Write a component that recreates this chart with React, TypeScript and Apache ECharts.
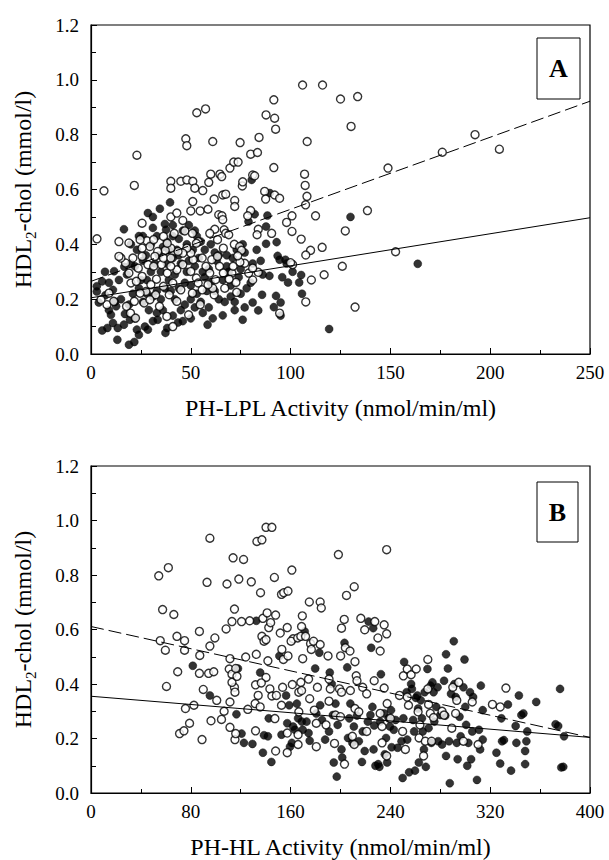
import React, { useEffect, useRef } from "react";
import * as echarts from "echarts";

// ---------- Panel A: PH-LPL activity vs HDL2-chol ----------
const xTicksA = [0, 50, 100, 150, 200, 250];
const yTicks = [0, 0.2, 0.4, 0.6, 0.8, 1.0, 1.2];

const openA: number[][] = [
  [3, 0.42], [6.5, 0.595], [23, 0.725], [21.7, 0.615], [25.6, 0.477], [14, 0.41], [19, 0.405], [28, 0.413],
  [47.5, 0.785], [48, 0.76], [53, 0.88], [57.4, 0.894], [61, 0.775], [40, 0.63], [40, 0.605], [45, 0.63],
  [48, 0.635], [51, 0.63], [52, 0.605], [51, 0.556], [50, 0.522], [56, 0.596], [59, 0.626], [60, 0.656],
  [61.7, 0.565], [54.7, 0.522], [58.6, 0.528], [64.6, 0.656], [65.5, 0.647], [66, 0.58], [67.5, 0.583],
  [64, 0.508], [65.6, 0.504], [66, 0.49], [69.6, 0.678], [71.5, 0.7], [73.7, 0.7], [72, 0.56], [72, 0.538],
  [75.8, 0.613], [76, 0.628], [74.7, 0.771], [80, 0.729], [83.4, 0.735], [84.2, 0.79], [81, 0.653], [82, 0.65],
  [80, 0.523], [78.5, 0.504], [87.7, 0.872], [91.6, 0.927], [92, 0.86], [92.5, 0.82], [91.6, 0.68], [87, 0.593],
  [87.5, 0.565], [92, 0.58], [94.5, 0.568], [83.8, 0.455], [90.5, 0.44], [98, 0.48], [100.7, 0.504],
  [100.7, 0.447], [106, 0.981], [116, 0.981], [125, 0.93], [133.6, 0.939], [130.3, 0.83], [108.3, 0.775],
  [107, 0.656], [107.3, 0.615], [108.2, 0.575], [107.5, 0.544], [112.5, 0.504], [105.3, 0.419], [110, 0.378],
  [107.6, 0.361], [115.8, 0.389], [127.4, 0.449], [125.9, 0.32], [116.8, 0.289], [110.4, 0.27], [107.6, 0.19],
  [132.3, 0.171], [138.5, 0.523], [148.8, 0.678], [152.6, 0.373], [176, 0.736], [192.4, 0.8], [204.6, 0.747],
  [94.5, 0.149], [101, 0.326], [100, 0.333], [83.8, 0.298], [81, 0.27],
  [40, 0.5], [43, 0.514], [46, 0.487], [47, 0.449], [53.7, 0.41], [62, 0.455], [66.7, 0.453], [67.5, 0.44],
  [69, 0.435], [71.8, 0.4], [74.5, 0.392], [75.4, 0.378], [77, 0.331], [74.6, 0.335], [70.6, 0.295],
  [72.6, 0.261], [69.2, 0.273], [67, 0.24], [73, 0.225], [61.7, 0.216], [61, 0.24], [59.5, 0.295], [57.6, 0.32],
  [55.7, 0.35], [51.2, 0.344], [50, 0.368], [48, 0.386], [46, 0.368], [43.6, 0.374], [40, 0.386], [37.2, 0.378],
  [33.4, 0.374], [32, 0.356], [35.3, 0.326], [32.8, 0.273], [30, 0.253], [32.4, 0.216], [27.5, 0.228],
  [26.6, 0.186], [20, 0.259], [19, 0.295], [17.3, 0.332], [15, 0.35], [14, 0.356], [21, 0.35], [23.7, 0.313],
  [21.7, 0.192], [17.8, 0.174], [19.8, 0.149], [22.3, 0.131], [9, 0.222], [8, 0.18], [11.4, 0.192], [5, 0.198],
  [34.3, 0.174], [38, 0.137], [41, 0.1], [48.9, 0.143], [43, 0.192], [45, 0.234], [41, 0.259], [38.2, 0.295],
  [43, 0.307], [46, 0.326], [50, 0.301], [52.8, 0.277], [53.7, 0.259], [55.7, 0.234], [50.8, 0.222],
  [54.7, 0.18], [60.5, 0.344], [63.4, 0.356], [64.4, 0.32], [66.3, 0.295], [62.4, 0.271], [58.6, 0.253],
  [79, 0.295], [81, 0.313], [71.2, 0.32], [73.5, 0.358], [83.2, 0.435], [52.8, 0.404], [50.8, 0.44],
  [59.5, 0.44], [63.4, 0.417], [66.3, 0.386], [29.5, 0.392], [25.6, 0.386], [24.6, 0.417], [31.4, 0.417],
  [36.3, 0.429], [38.2, 0.404], [41.7, 0.44], [25.6, 0.356], [28.5, 0.326], [31.4, 0.32], [25.6, 0.283],
  [22.7, 0.265], [36.3, 0.35], [40, 0.35], [40, 0.32], [36.3, 0.247], [39.2, 0.216], [29.5, 0.198], [24.6, 0.222],
];

const filledA: number[][] = [
  [163.7, 0.329], [130, 0.5], [119.3, 0.091], [39.6, 0.553], [34.5, 0.53], [28.5, 0.514], [16.5, 0.455],
  [31, 0.46], [37, 0.474], [37.6, 0.453], [80.5, 0.635], [89.6, 0.587], [88.4, 0.505], [78.9, 0.483],
  [87.7, 0.465], [87.7, 0.402], [93, 0.408], [93.5, 0.358], [94.5, 0.344], [97.4, 0.344], [89.4, 0.285],
  [95.8, 0.28], [98.7, 0.261], [104.3, 0.261], [105.3, 0.288], [105.7, 0.22], [92.7, 0.212], [85.7, 0.216],
  [91.6, 0.171], [95, 0.188], [95, 0.14], [83.8, 0.159], [81, 0.188], [76, 0.125], [66, 0.141], [58.4, 0.107],
  [5.6, 0.086], [8.2, 0.095], [13.2, 0.052], [19, 0.034], [21.7, 0.044], [23, 0.089], [28.5, 0.089],
  [13.4, 0.095], [16.5, 0.107], [10, 0.143], [11, 0.113], [17, 0.146], [5.6, 0.265], [11, 0.234], [11.6, 0.302],
  [2.9, 0.247], [2.9, 0.228], [3.9, 0.188], [7.2, 0.214], [12.6, 0.174], [37.3, 0.077], [38.2, 0.095],
  [43.6, 0.115], [33.4, 0.125],
  [15, 0.2], [18, 0.29], [16.7, 0.318], [19.5, 0.125], [22, 0.13], [24, 0.07], [27, 0.1], [31, 0.12], [29, 0.16],
  [33, 0.15], [26, 0.19], [24, 0.24], [28, 0.27], [30, 0.3], [32, 0.33], [27.5, 0.36], [23, 0.38], [20, 0.33],
  [34, 0.36], [36, 0.39], [38, 0.41], [41, 0.43], [44, 0.42], [46, 0.45], [49, 0.47], [53, 0.43], [55, 0.41],
  [57, 0.38], [60, 0.4], [62, 0.37], [64, 0.36], [68, 0.36], [71, 0.35], [73, 0.38], [76, 0.4], [77, 0.37],
  [63, 0.34], [59, 0.31], [57, 0.28], [60, 0.26], [62, 0.23], [64, 0.2], [67, 0.19], [70, 0.21], [72, 0.19],
  [75, 0.22], [78, 0.24], [80, 0.26], [74, 0.28], [70, 0.25], [66, 0.27], [68, 0.32], [55, 0.19], [52, 0.17],
  [50, 0.2], [47, 0.18], [45, 0.16], [42, 0.2], [40, 0.23], [44, 0.24], [47, 0.26], [50, 0.25], [53, 0.22],
  [48, 0.3], [45, 0.33], [42, 0.29], [39, 0.27], [37, 0.24], [35, 0.2], [33, 0.23], [35, 0.3], [38, 0.33],
  [41, 0.35], [44, 0.36], [49, 0.34], [52, 0.32], [54, 0.35], [56, 0.15], [59, 0.17], [61, 0.13], [50, 0.13],
  [46, 0.12], [41, 0.14], [36, 0.16], [31, 0.21], [28, 0.22], [25, 0.27], [21, 0.22], [19, 0.18], [14, 0.27],
  [9, 0.26], [7, 0.3], [20, 0.4], [24, 0.43], [26, 0.34], [72, 0.16], [69, 0.3], [85, 0.34], [83, 0.38],
  [86, 0.29], [81, 0.33], [75, 0.31], [77, 0.17], [58, 0.23], [56, 0.3], [39, 0.38], [43, 0.38], [48, 0.4],
  [51, 0.38], [30, 0.4], [33, 0.43], [26, 0.43], [22, 0.32], [12, 0.19], [9, 0.16], [31, 0.5], [41, 0.47],
  [52, 0.45], [82, 0.51], [98, 0.33], [101, 0.3],
];

const dashedA = [[0, 0.265], [250, 0.922]];
const solidA = [[0, 0.205], [250, 0.497]];

// ---------- Panel B: PH-HL activity vs HDL2-chol ----------
const xTicksB = [0, 80, 160, 240, 320, 400];

const openB: number[][] = [
  [54.3, 0.797], [62, 0.827], [57.4, 0.673], [66.4, 0.655], [55.5, 0.559], [59.6, 0.524], [60.5, 0.391],
  [68.9, 0.575], [69.5, 0.445], [75, 0.559], [75, 0.524], [71, 0.218], [74.5, 0.228], [75.7, 0.31], [79, 0.256],
  [82.5, 0.322], [86.9, 0.593], [87.2, 0.505], [86.9, 0.439], [89, 0.196], [90, 0.38], [93, 0.773], [95.3, 0.935],
  [95.3, 0.539], [94.3, 0.439], [99.3, 0.569], [98.4, 0.445], [96.2, 0.265], [100.8, 0.34], [104.6, 0.27],
  [106.7, 0.3], [108.3, 0.602], [109, 0.767], [110.8, 0.455], [111.4, 0.493], [113, 0.436], [111.4, 0.334],
  [111.4, 0.241], [113.9, 0.863], [115, 0.675], [115, 0.388], [115.4, 0.37], [113, 0.406], [115.4, 0.196],
  [116, 0.218], [117, 0.428], [116, 0.457], [113, 0.629], [118.5, 0.785], [120.7, 0.629], [122.3, 0.857],
  [124, 0.499], [125.7, 0.307], [127.2, 0.632], [128.5, 0.775], [131.9, 0.228], [131.6, 0.328], [131.9, 0.397],
  [132.5, 0.509], [133, 0.923], [135.9, 0.735], [137, 0.929], [137, 0.575], [137.8, 0.641], [140.3, 0.975],
  [145, 0.975], [141.2, 0.661], [142.5, 0.607], [138.7, 0.557], [140.3, 0.563], [140.3, 0.424], [141.8, 0.485],
  [143.4, 0.382], [145, 0.356], [136.5, 0.404], [134, 0.358], [135.6, 0.316], [144, 0.625], [147, 0.791],
  [148, 0.653], [147.4, 0.273], [148, 0.154], [148.6, 0.358], [151.7, 0.587], [152.7, 0.729], [154.5, 0.735],
  [153, 0.527], [154.2, 0.49], [153.6, 0.388], [152.7, 0.322], [157.3, 0.607], [157.9, 0.741], [157.9, 0.503],
  [157.3, 0.148], [157.3, 0.22], [161, 0.818], [161.4, 0.398], [162, 0.566], [160.4, 0.557], [165.7, 0.569],
  [166.6, 0.37], [166.6, 0.298], [166, 0.178], [166, 0.214], [168.2, 0.575], [168.8, 0.611], [169.4, 0.65],
  [169.7, 0.493], [168.2, 0.406], [168.8, 0.376], [172, 0.575], [175, 0.701], [175.3, 0.346], [174.4, 0.418],
  [176, 0.548], [176.6, 0.527], [178.4, 0.557], [179, 0.304], [180.6, 0.17], [180.6, 0.256], [181.5, 0.388],
  [183.7, 0.701], [184.6, 0.679], [183.7, 0.545], [190, 0.503], [190.8, 0.418], [191.8, 0.382], [190.8, 0.337],
  [188.4, 0.25], [195.2, 0.182], [198.3, 0.875], [200.1, 0.503], [199.2, 0.382], [200.8, 0.37], [196, 0.286],
  [200, 0.28], [200.8, 0.605], [203, 0.637], [204.8, 0.725], [203.9, 0.533], [203.2, 0.106], [207.6, 0.521],
  [207.9, 0.376], [211, 0.757], [211.6, 0.482], [212.6, 0.43], [213.2, 0.412], [209.5, 0.208], [211, 0.178],
  [211.6, 0.31], [214.7, 0.298], [216.3, 0.641], [217.8, 0.388], [219.4, 0.599], [221, 0.364], [221, 0.226],
  [227.5, 0.629], [227, 0.412], [230, 0.569], [231.8, 0.521], [231.8, 0.292], [233.3, 0.244], [235, 0.617],
  [237, 0.584], [237, 0.893], [235, 0.385], [237.4, 0.328], [240, 0.274], [233.3, 0.184], [237, 0.136],
  [247.3, 0.358], [249.8, 0.226], [252, 0.16], [250.4, 0.43], [253.5, 0.455], [256.6, 0.434], [253.5, 0.352],
  [254.5, 0.322], [260.7, 0.455], [262.2, 0.298], [263, 0.202], [263.7, 0.25], [266.6, 0.136], [268, 0.19],
  [270, 0.49], [270, 0.382], [270.6, 0.325], [272, 0.292], [273, 0.19], [274.6, 0.277], [281.4, 0.3],
  [283, 0.286], [289.2, 0.238], [290, 0.388], [292.3, 0.292], [294.8, 0.406], [293.2, 0.34], [298.5, 0.19],
  [305.6, 0.334], [310.3, 0.178], [321.8, 0.325], [328, 0.316], [332.6, 0.385],
];

const filledB: number[][] = [
  [81.6, 0.467], [95.3, 0.358], [116.6, 0.289], [117.8, 0.457], [120.7, 0.218], [122.6, 0.184], [129.4, 0.18],
  [132.5, 0.632], [135.6, 0.442], [137.8, 0.148], [138.7, 0.212], [141.8, 0.208], [142.5, 0.274], [144.6, 0.114],
  [151, 0.503], [152.7, 0.214], [156.4, 0.358], [157.3, 0.256], [158.9, 0.322], [159.5, 0.17], [161, 0.184],
  [162, 0.244], [163.5, 0.232], [165, 0.328], [166, 0.274], [169, 0.262], [169.7, 0.232], [171.3, 0.593],
  [172.8, 0.262], [174.4, 0.22], [175.3, 0.192], [179.7, 0.457], [180.6, 0.292], [183, 0.515], [183.7, 0.322],
  [185.2, 0.268], [187.7, 0.196], [190.8, 0.226], [191.4, 0.442], [193, 0.4], [193.9, 0.286], [194.6, 0.112],
  [196, 0.328], [197, 0.06], [197.7, 0.25], [200.8, 0.16], [201.4, 0.13], [203.2, 0.551], [205.4, 0.461],
  [206, 0.202], [207, 0.274], [207.9, 0.328], [209.5, 0.184], [210.7, 0.244], [213.2, 0.284], [214.7, 0.19],
  [217.2, 0.114], [217.8, 0.226], [219.4, 0.154], [221.9, 0.262], [222.5, 0.629], [224, 0.286], [224.6, 0.533],
  [225.6, 0.316], [226.2, 0.605], [226.5, 0.16], [227, 0.248], [228, 0.1], [230.2, 0.106], [231.2, 0.096],
  [231.8, 0.262], [232.4, 0.436], [235, 0.292], [235.5, 0.142], [236.5, 0.202], [237.4, 0.112], [238.6, 0.274],
  [239.6, 0.244], [240.5, 0.304], [241, 0.168], [242.7, 0.232], [244.2, 0.268], [245.8, 0.166], [248.9, 0.19],
  [250.4, 0.274], [251, 0.481], [253, 0.37], [249.8, 0.055], [253.5, 0.196], [255, 0.076], [256.6, 0.4],
  [257.2, 0.382], [258.2, 0.268], [259, 0.226], [259.7, 0.082], [260.4, 0.349], [261.6, 0.358], [262.2, 0.31],
  [262.8, 0.112], [264.4, 0.34], [265.3, 0.274], [265.9, 0.226], [266.9, 0.16], [267.5, 0.37], [268.4, 0.096],
  [269.7, 0.455], [270.6, 0.238], [272.2, 0.394], [272.8, 0.184], [273.7, 0.406], [274.6, 0.37], [275.2, 0.262],
  [276.8, 0.316], [277.8, 0.388], [278.3, 0.19], [280, 0.286], [281.4, 0.178], [283, 0.412], [284, 0.284],
  [284.6, 0.509], [284.6, 0.136], [286.1, 0.457], [287, 0.19], [287.6, 0.036], [288.6, 0.364], [290.8, 0.557],
  [291.3, 0.4], [292.3, 0.352], [293.2, 0.184], [293.9, 0.124], [295.4, 0.28], [296.3, 0.208], [298.5, 0.388],
  [299.4, 0.49], [300, 0.316], [300.7, 0.25], [301.6, 0.1], [302.5, 0.184], [303.8, 0.37], [304.7, 0.124],
  [305.6, 0.226], [306.3, 0.352], [309.4, 0.048], [311, 0.232], [311.9, 0.16], [312.5, 0.394], [314, 0.196],
  [314, 0.304], [325, 0.148], [328, 0.108], [329, 0.274], [329.5, 0.19], [331, 0.194], [334.2, 0.325],
  [336.7, 0.082], [340.4, 0.246], [341, 0.184], [343, 0.358], [345, 0.286], [346.6, 0.292], [348, 0.154],
  [348, 0.106], [349, 0.19], [349.7, 0.226], [356.9, 0.334], [372.4, 0.252], [374.5, 0.246], [376, 0.382],
  [377, 0.094], [378.6, 0.096], [379.2, 0.208],
];

const dashedB = [[0, 0.611], [400, 0.204]];
const solidB = [[0, 0.355], [400, 0.204]];

const xNameA = "PH-LPL Activity (nmol/min/ml)";
const xNameB = "PH-HL Activity (nmol/min/ml)";
const yName = "HDL{s|2}-chol (mmol/l)";
const panelLabels = ["A", "B"];

const FONT = "'Liberation Serif', 'Times New Roman', Tinos, Times, serif";

function xAxis(gridIndex: number, ticks: number[], name: string) {
  const interval = ticks[1] - ticks[0];
  return {
    type: "value",
    gridIndex,
    min: ticks[0],
    max: ticks[ticks.length - 1],
    interval,
    name,
    nameLocation: "middle",
    nameGap: 42,
    nameTextStyle: { fontFamily: FONT, fontSize: 24, color: "#000" },
    axisLine: { show: true, onZero: false, lineStyle: { color: "#000", width: 1.2 } },
    axisTick: { show: true, inside: true, length: 6, lineStyle: { color: "#000" } },
    minorTick: { show: true, splitNumber: 2, length: 4, lineStyle: { color: "#000" } },
    axisLabel: { fontFamily: FONT, fontSize: 19, color: "#000", margin: 9 },
    splitLine: { show: false },
  };
}

function yAxis(gridIndex: number) {
  return {
    type: "value",
    gridIndex,
    min: yTicks[0],
    max: yTicks[yTicks.length - 1],
    interval: 0.2,
    name: yName,
    nameLocation: "middle",
    nameGap: 56,
    nameTextStyle: {
      fontFamily: FONT,
      fontSize: 24,
      color: "#000",
      rich: {
        s: { fontFamily: FONT, fontSize: 15, color: "#000", verticalAlign: "top", padding: [12, 0, 0, 0], lineHeight: 15 },
      },
    },
    axisLine: { show: true, onZero: false, lineStyle: { color: "#000", width: 1.2 } },
    axisTick: { show: true, inside: true, length: 6, lineStyle: { color: "#000" } },
    minorTick: { show: true, splitNumber: 2, length: 5, lineStyle: { color: "#000" } },
    axisLabel: {
      fontFamily: FONT,
      fontSize: 19,
      color: "#000",
      margin: 12,
      formatter: (v: number) => v.toFixed(1),
    },
    splitLine: { show: false },
  };
}

const openStyle = { color: "#fff", borderColor: "#000", borderWidth: 1.4 };
const filledStyle = { color: "#000", borderColor: "#000", borderWidth: 0.5 };

function scatter(idx: number, data: number[][], style: any) {
  return {
    type: "scatter",
    xAxisIndex: idx,
    yAxisIndex: idx,
    data,
    symbol: "circle",
    symbolSize: 8,
    itemStyle: style,
    silent: true,
  };
}

function line(idx: number, data: number[][], dashed: boolean) {
  return {
    type: "line",
    xAxisIndex: idx,
    yAxisIndex: idx,
    data,
    symbol: "none",
    z: 5,
    lineStyle: { color: "#000", width: 1, type: dashed ? [13, 5] : "solid" },
    silent: true,
  };
}

export default function App() {
  const ref = useRef<HTMLDivElement>(null);
  useEffect(() => {
    document.body.style.margin = "0";
    if (!ref.current) return;
    const chart = echarts.init(ref.current, null, { renderer: "svg" });
    chart.setOption({
      animation: false,
      backgroundColor: "#fff",
      textStyle: { fontFamily: FONT },
      grid: [
        { left: 91, top: 25, width: 499, height: 329, show: true, borderColor: "#000", borderWidth: 1.2 },
        { left: 91, top: 466, width: 499, height: 327, show: true, borderColor: "#000", borderWidth: 1.2 },
      ],
      xAxis: [xAxis(0, xTicksA, xNameA), xAxis(1, xTicksB, xNameB)],
      yAxis: [yAxis(0), yAxis(1)],
      series: [
        scatter(0, filledA, filledStyle),
        scatter(0, openA, openStyle),
        line(0, dashedA, true),
        line(0, solidA, false),
        scatter(1, filledB, filledStyle),
        scatter(1, openB, openStyle),
        line(1, dashedB, true),
        line(1, solidB, false),
      ],
      graphic: [
        {
          type: "group",
          children: [
            { type: "rect", shape: { x: 537, y: 38, width: 43, height: 61 }, style: { fill: "#fff", stroke: "#000", lineWidth: 1 }, z: 10 },
            { type: "text", x: 558.5, y: 68.5, style: { text: panelLabels[0], font: `bold 26px ${FONT}`, fill: "#000", align: "center", verticalAlign: "middle" }, z: 11 },
            { type: "rect", shape: { x: 537, y: 482, width: 41, height: 60 }, style: { fill: "#fff", stroke: "#000", lineWidth: 1 }, z: 10 },
            { type: "text", x: 557.5, y: 512, style: { text: panelLabels[1], font: `bold 26px ${FONT}`, fill: "#000", align: "center", verticalAlign: "middle" }, z: 11 },
          ],
        },
      ],
    });
    return () => chart.dispose();
  }, []);
  return <div ref={ref} style={{ width: 609, height: 860 }} />;
}
